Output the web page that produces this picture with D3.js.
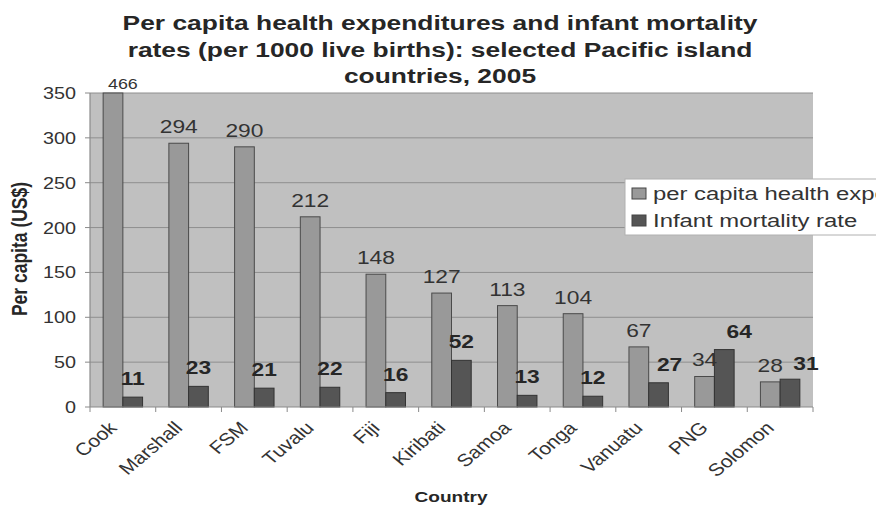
<!DOCTYPE html>
<html>
<head>
<meta charset="utf-8">
<script src="https://cdn.jsdelivr.net/npm/d3@7"></script>
<style>
  html, body { margin: 0; padding: 0; background: #fff; }
  svg { display: block; font-family: "Liberation Sans", Arial, sans-serif; }
</style>
</head>
<body>
<svg id="chart" width="876" height="505"></svg>
<script>
// ---- data ----
const categories = ["Cook","Marshall","FSM","Tuvalu","Fiji","Kiribati","Samoa","Tonga","Vanuatu","PNG","Solomon"];
const healthExp = [466, 294, 290, 212, 148, 127, 113, 104, 67, 34, 28];
const infantMortality = [11, 23, 21, 22, 16, 52, 13, 12, 27, 64, 31];
const yTicks = [0, 50, 100, 150, 200, 250, 300, 350];
const seriesNames = ["per capita health expenditure (US$)", "Infant mortality rate"];
const titleLines = ["Per capita health expenditures and infant mortality",
                    "rates (per 1000 live births): selected Pacific island",
                    "countries, 2005"];
// label nudges (layout only) for the infant-mortality labels that were moved in the original
const infantLabelNudgeX = [0,0,0,0,0,0,0,0,11,15,16];
const infantLabelNudgeY = [0,0,0,0,0,0,0,0,0,0,3];

// ---- layout ----
const svg = d3.select("#chart");
const pL = 90, pR = 813, pT = 93, pB = 407;
const textColor = "#262626";
const SX = 1.2;

const x = d3.scaleBand().domain(categories).range([pL, pR]).padding(0);
const y = d3.scaleLinear().domain([0, 350]).range([pB, pT]);
const bw = x.bandwidth();
const barW = bw * 0.3;
const groupOff = (bw - 2 * barW) / 2;

function stext(g, px, py, sx, rot) {
  return g.append("text")
    .attr("transform", `translate(${px},${py}) scale(${sx},1)` + (rot ? ` rotate(${rot})` : ""));
}

// plot background
svg.append("rect").attr("x", pL).attr("y", pT).attr("width", pR - pL).attr("height", pB - pT)
  .attr("fill", "#c0c0c0");

// gridlines
svg.append("g").selectAll("line").data(yTicks.filter(d => d > 0)).join("line")
  .attr("x1", pL).attr("x2", pR)
  .attr("y1", d => y(d)).attr("y2", d => y(d))
  .attr("stroke", "#8e8e8e").attr("stroke-width", 1);

// y axis line + ticks
svg.append("line").attr("x1", pL).attr("x2", pL).attr("y1", pT).attr("y2", pB)
  .attr("stroke", "#8a8a8a").attr("stroke-width", 1.2);
svg.append("g").selectAll("line").data(yTicks).join("line")
  .attr("x1", pL - 5).attr("x2", pL).attr("y1", d => y(d)).attr("y2", d => y(d))
  .attr("stroke", "#8a8a8a");
const yLab = svg.append("g");
yTicks.forEach(t => {
  stext(yLab, 76, y(t) + 6, SX, 0).attr("text-anchor", "end")
    .attr("font-size", 16.5).attr("fill", "#333").text(t);
});

// bars
const g = svg.append("g");
const ymax = y.domain()[1];
g.selectAll("rect.h").data(healthExp).join("rect")
  .attr("class", "h")
  .attr("x", (d, i) => x(categories[i]) + groupOff)
  .attr("y", d => y(Math.min(d, ymax)))
  .attr("width", barW)
  .attr("height", d => pB - y(Math.min(d, ymax)))
  .attr("fill", "#999999").attr("stroke", "#4a4a4a").attr("stroke-width", 1);
g.selectAll("rect.m").data(infantMortality).join("rect")
  .attr("class", "m")
  .attr("x", (d, i) => x(categories[i]) + groupOff + barW)
  .attr("y", d => y(d))
  .attr("width", barW)
  .attr("height", d => pB - y(d))
  .attr("fill", "#555555").attr("stroke", "#333").attr("stroke-width", 1);

// x axis line + ticks
svg.append("line").attr("x1", pL).attr("x2", pR).attr("y1", pB).attr("y2", pB)
  .attr("stroke", "#8a8a8a").attr("stroke-width", 1.2);
const bounds = categories.map(c => x(c)).concat([pR]);
svg.append("g").selectAll("line").data(bounds).join("line")
  .attr("x1", d => d).attr("x2", d => d).attr("y1", pB).attr("y2", pB + 5)
  .attr("stroke", "#8a8a8a");

// value labels
const lab = svg.append("g");
healthExp.forEach((v, i) => {
  if (v > ymax) {
    stext(lab, x(categories[i]) + bw / 2, 89, 1.28, 0).attr("text-anchor", "middle")
      .attr("font-size", 14).attr("fill", "#333").text(v);
  } else {
    stext(lab, x(categories[i]) + groupOff + barW / 2, y(v) - 10, SX, 0).attr("text-anchor", "middle")
      .attr("font-size", 19).attr("fill", "#333").text(v);
  }
});
infantMortality.forEach((v, i) => {
  stext(lab, x(categories[i]) + groupOff + barW * 1.5 + infantLabelNudgeX[i], y(v) - 12 + infantLabelNudgeY[i], SX, 0)
    .attr("text-anchor", "middle").attr("font-size", 19).attr("font-weight", "bold")
    .attr("fill", textColor).text(v);
});

// x category labels
const xl = svg.append("g");
categories.forEach(c => {
  stext(xl, x(c) + bw / 2 - 5, 429, SX, -45).attr("text-anchor", "end")
    .attr("font-size", 17.5).attr("fill", "#333").text(c);
});

// axis titles
stext(svg, 451, 502, 1.23, 0).attr("text-anchor", "middle").attr("font-size", 15.5)
  .attr("font-weight", "bold").attr("fill", textColor).text("Country");
stext(svg, 27, 249, 1.25, -90).attr("text-anchor", "middle").attr("font-size", 17.5)
  .attr("font-weight", "bold").attr("fill", textColor).text("Per capita (US$)");

// title
titleLines.forEach((t, i) => {
  stext(svg, 440, 30 + i * 26.5, 1.32, 0).attr("text-anchor", "middle").attr("font-size", 20)
    .attr("font-weight", "bold").attr("fill", textColor).text(t);
});

// legend
const lg = svg.append("g");
lg.append("rect").attr("x", 625).attr("y", 179).attr("width", 260).attr("height", 56)
  .attr("fill", "#fff").attr("stroke", "#b0b0b0").attr("stroke-width", 1);
const swFill = ["#999999", "#555555"];
seriesNames.forEach((n, i) => {
  const yy = 188 + i * 27;
  lg.append("rect").attr("x", 632).attr("y", yy).attr("width", 14).attr("height", 11)
    .attr("fill", swFill[i]).attr("stroke", "#444");
  stext(lg, 653, yy + 12, 1.29, 0).attr("font-size", 18.5).attr("fill", "#333").text(n);
});
</script>
</body>
</html>
